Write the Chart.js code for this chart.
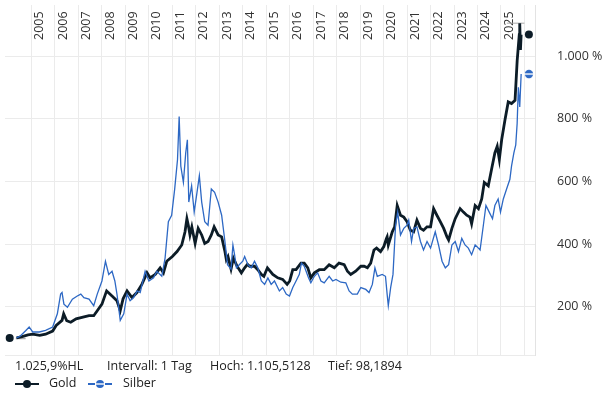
<!DOCTYPE html>
<html><head><meta charset="utf-8">
<script src="https://cdn.jsdelivr.net/npm/chart.js@4/dist/chart.umd.min.js"></script>
<style>
html,body{margin:0;padding:0;background:#fff;}
#wrap{position:relative;width:609px;height:393px;overflow:hidden;font-family:"Open Sans",sans-serif;color:#222;}
#c{position:absolute;left:0;top:0;}
.t{position:absolute;font-size:12.5px;line-height:16px;white-space:nowrap;}
.s{position:absolute;}
</style></head><body>
<div id="wrap">
<canvas id="c" width="609" height="393"></canvas>
<span class="t" style="left:15px;top:358px">1.025,9%HL</span>
<span class="t" style="left:107px;top:358px">Intervall: 1 Tag</span>
<span class="t" style="left:210px;top:358px">Hoch: 1.105,5128</span>
<span class="t" style="left:328px;top:358px">Tief: 98,1894</span>
<svg class="s" style="left:15px;top:379px" width="25" height="10"><line x1="0" y1="5" x2="24" y2="5" stroke="#0c1c27" stroke-width="2"/><circle cx="12" cy="5" r="4" fill="#0c1c27"/></svg>
<span class="t" style="left:49px;top:375px">Gold</span>
<svg class="s" style="left:88px;top:379px" width="25" height="10"><line x1="0" y1="5" x2="7" y2="5" stroke="#2d68c4" stroke-width="2"/><line x1="17" y1="5" x2="24" y2="5" stroke="#2d68c4" stroke-width="2"/><circle cx="12" cy="5" r="4" fill="#2d68c4"/><rect x="7" y="4.3" width="10" height="1.4" fill="#fff"/></svg>
<span class="t" style="left:123px;top:375px">Silber</span>
</div>
<script>
// ---- data (percent, indexed to 100 at start) ----
const goldYears = [2004.36,2004.6,2004.85,2005.05,2005.35,2005.6,2005.9,2006.05,2006.3,2006.37,
2006.5,2006.67,2006.9,2007.15,2007.45,2007.65,2007.8,2008.0,2008.15,2008.2,
2008.43,2008.64,2008.78,2008.9,2009.07,2009.28,2009.49,2009.7,2009.92,2010.05,
2010.27,2010.48,2010.62,2010.76,2011.0,2011.2,2011.4,2011.54,2011.62,2011.68,
2011.75,2011.83,2011.97,2012.1,2012.25,2012.38,2012.52,2012.66,2012.78,2012.95,
2013.1,2013.24,2013.3,2013.37,2013.5,2013.6,2013.75,2013.94,2014.08,2014.2,
2014.29,2014.5,2014.64,2014.79,2014.9,2015.05,2015.28,2015.49,2015.7,2015.89,
2016.0,2016.13,2016.27,2016.48,2016.62,2016.77,2016.9,2017.05,2017.26,2017.47,
2017.68,2017.9,2018.1,2018.32,2018.46,2018.6,2018.81,2019.03,2019.17,2019.31,
2019.45,2019.59,2019.7,2019.87,2020.01,2020.12,2020.15,2020.2,2020.37,2020.47,
2020.58,2020.72,2020.86,2021.0,2021.14,2021.28,2021.42,2021.57,2021.7,2021.85,
2022.0,2022.13,2022.27,2022.42,2022.56,2022.7,2022.77,2022.91,2023.05,2023.26,
2023.4,2023.54,2023.68,2023.75,2023.9,2024.04,2024.18,2024.29,2024.46,2024.6,
2024.74,2024.84,2024.93,2025.03,2025.17,2025.31,2025.45,2025.6,2025.69,2025.78,
2025.8,2025.83,2025.86];
const goldValues = [100,104,110,112,108,112,122,140,156,177,
155,150,161,166,171,171,187,208,240,250,
234,219,187,225,250,229,245,271,308,292,
303,324,308,345,360,376,397,439,481,460,
429,455,402,450,429,402,408,429,455,429,
423,376,350,360,320,355,330,308,324,335,
329,329,318,303,297,324,303,292,287,271,
282,318,318,339,339,324,292,308,318,318,
334,324,339,334,313,303,313,329,329,324,
339,381,387,376,392,418,423,397,439,455,
523,492,486,471,444,439,476,450,444,455,
455,513,492,471,450,423,413,450,481,513,
502,492,486,465,523,513,544,597,586,639,
691,712,670,733,796,854,849,859,985,1069,
1105,1020,1069];
const silverYears = [2004.36,2004.5,2004.76,2004.9,2005.05,2005.33,2005.6,2005.9,2006.1,2006.24,
2006.3,2006.38,2006.53,2006.74,2006.95,2007.1,2007.23,2007.45,2007.65,2007.8,
2008.0,2008.15,2008.29,2008.43,2008.55,2008.64,2008.78,2008.93,2009.07,2009.2,
2009.35,2009.5,2009.63,2009.84,2010.0,2010.2,2010.34,2010.55,2010.69,2010.83,
2010.97,2011.1,2011.22,2011.29,2011.36,2011.47,2011.57,2011.64,2011.7,2011.82,
2011.93,2012.05,2012.15,2012.25,2012.38,2012.52,2012.66,2012.8,2012.95,2013.1,
2013.24,2013.35,2013.5,2013.58,2013.65,2013.73,2013.85,2014.0,2014.08,2014.22,
2014.36,2014.5,2014.64,2014.79,2014.93,2015.07,2015.21,2015.35,2015.56,2015.7,
2015.85,2015.99,2016.13,2016.27,2016.41,2016.5,2016.62,2016.8,2016.9,2017.05,
2017.19,2017.33,2017.47,2017.68,2017.83,2017.97,2018.18,2018.39,2018.53,2018.67,
2018.88,2019.03,2019.24,2019.38,2019.52,2019.63,2019.73,2019.94,2020.08,2020.15,
2020.2,2020.3,2020.4,2020.51,2020.6,2020.72,2020.86,2021.0,2021.07,2021.19,
2021.28,2021.42,2021.57,2021.7,2021.85,2022.0,2022.2,2022.34,2022.49,2022.63,
2022.77,2022.91,2023.05,2023.19,2023.33,2023.47,2023.61,2023.75,2023.9,2024.04,
2024.11,2024.25,2024.36,2024.5,2024.64,2024.74,2024.88,2024.98,2025.1,2025.24,
2025.38,2025.45,2025.55,2025.63,2025.69,2025.74,2025.8,2025.86];
const silverValues = [100,105,124,135,119,119,124,135,177,240,
245,208,198,224,234,240,229,224,203,240,
282,345,303,313,282,240,156,177,240,219,
229,250,245,313,282,292,313,297,355,471,
492,576,670,807,649,597,691,733,534,586,
502,565,618,534,471,460,576,565,534,492,
408,334,320,397,366,324,334,345,360,334,
324,345,324,282,271,292,271,282,250,261,
240,234,261,282,303,339,329,292,276,297,
308,282,276,297,282,287,278,276,250,240,
240,261,255,245,271,324,297,303,297,240,
203,261,303,460,502,429,450,460,476,408,
450,455,408,381,408,387,439,397,345,324,
334,397,408,376,418,397,387,366,397,387,
381,460,523,502,481,523,544,502,544,576,
607,649,691,717,786,901,838,943];
const yearTicks = [2005,2006,2007,2008,2009,2010,2011,2012,2013,2014,2015,2016,2017,2018,2019,2020,2021,2022,2023,2024,2025,2026];
const percentTicks = [200,400,600,800,1000];
const highValue = 1105.5128, lowValue = 98.1894;
const highSpan = [2025.25, 2026.0], lowSpan = [2004.33, 2004.75];
const startMarkerYear = 2004.07, endMarkerYear = 2026.19;

const GOLD = '#0c1c27', SILVER = '#2d68c4', GRID = '#ebebeb';
const Y_MIN = 45.5, Y_MAX = 1163.6;

function pts(xs, ys){ const n=Math.min(xs.length, ys.length); const a=[]; for(let i=0;i<n;i++) a.push({x:xs[i], y:ys[i]}); return a; }
function silverDot(){ const c=document.createElement('canvas'); c.width=10; c.height=10; const x=c.getContext('2d'); x.fillStyle=SILVER; x.beginPath(); x.arc(5,5,4.2,0,Math.PI*2); x.fill(); x.fillStyle='#fff'; x.fillRect(0,4.3,10,1.4); return c; }
function noPad(s){ s.paddingTop=0; s.paddingBottom=0; s.paddingLeft=0; s.paddingRight=0; }

const font = {family:'"Open Sans", sans-serif', size:12.5};
new Chart(document.getElementById('c'), {
  type:'line',
  data:{datasets:[
    {label:'Silber', data:pts(silverYears, silverValues), borderColor:SILVER, borderWidth:1.3, pointRadius:0, tension:0, order:0},
    {label:'Gold', data:pts(goldYears, goldValues), borderColor:GOLD, borderWidth:2.8, pointRadius:0, tension:0, order:1},
    {label:'high', data:[{x:highSpan[0], y:highValue},{x:highSpan[1], y:highValue}], borderColor:'#aaaaaa', borderWidth:1, pointRadius:0, order:2, clip:false},
    {label:'low', data:[{x:lowSpan[0], y:lowValue},{x:lowSpan[1], y:lowValue}], borderColor:'#aaaaaa', borderWidth:1.5, pointRadius:0, order:2, clip:false},
    {label:'goldStart', data:[{x:startMarkerYear, y:goldValues[0]}], showLine:false, pointRadius:4, pointBackgroundColor:GOLD, pointBorderWidth:0, order:-1, clip:false},
    {label:'goldEnd', data:[{x:endMarkerYear, y:goldValues[goldValues.length-1]}], showLine:false, pointRadius:4, pointBackgroundColor:GOLD, pointBorderWidth:0, order:-1, clip:false},
    {label:'silverEnd', data:[{x:endMarkerYear, y:silverValues[silverValues.length-1]}], showLine:false, pointStyle:silverDot(), pointRadius:4, order:-1, clip:false}
  ]},
  options:{
    responsive:false, animation:false, devicePixelRatio:1,
    layout:{padding:{left:3, right:0, top:0, bottom:38}},
    plugins:{legend:{display:false}, tooltip:{enabled:false}},
    scales:{
      x:{type:'linear', position:'top', min:2003.87, max:2026.45,
        afterFit(s){ s.height = 0; noPad(s); },
        afterBuildTicks(s){ s.ticks = yearTicks.map(v=>({value:v})); },
        grid:{color:GRID, drawTicks:false, lineWidth:1},
        border:{display:false},
        ticks:{mirror:true, padding:35, minRotation:90, maxRotation:90, autoSkip:false, labelOffset:8, color:'#333', font:font,
          callback:(v)=> v<=2025 ? String(v) : ''}
      },
      y:{type:'linear', position:'right', min:Y_MIN, max:Y_MAX,
        afterFit(s){ s.width = 74; noPad(s); },
        afterBuildTicks(s){ s.ticks = [Y_MIN].concat(percentTicks).map(v=>({value:v})); },
        grid:{color:GRID, drawTicks:false},
        border:{display:true, color:'#e3e3e3'},
        ticks:{padding:22, color:'#333', font:font,
          callback:(v)=> v<100 ? '' : v.toLocaleString('de-DE')+' %'}
      }
    }
  }
});
</script>
</body></html>
